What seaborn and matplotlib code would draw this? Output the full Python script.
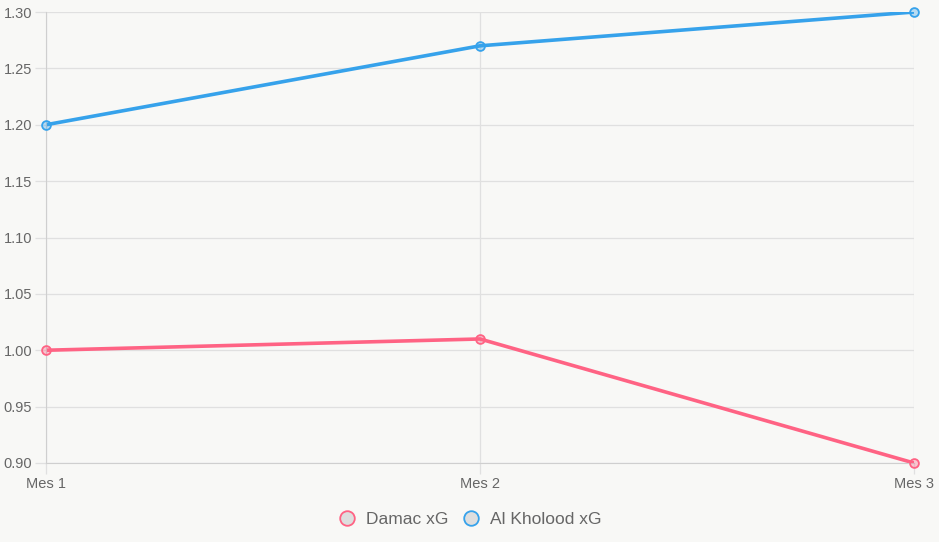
import matplotlib
matplotlib.use("Agg")
import matplotlib.pyplot as plt
import seaborn as sns
import pandas as pd
from matplotlib.lines import Line2D

meses = ["Mes 1", "Mes 2", "Mes 3"]
damac_xg = [1.00, 1.01, 0.90]
kholood_xg = [1.20, 1.27, 1.30]
series = ["Damac xG", "Al Kholood xG"]
colores = ["#ff6384", "#36a2eb"]

df = pd.DataFrame({
    "mes": meses * 2,
    "xg": damac_xg + kholood_xg,
    "equipo": [series[0]] * 3 + [series[1]] * 3,
})

sns.set_style("white")
plt.rcParams["font.family"] = ["Liberation Sans", "DejaVu Sans"]

fig = plt.figure(figsize=(9.39, 5.42), dpi=100, facecolor="#f8f8f6")
ax = fig.add_axes([46 / 939, 1 - 463 / 542, (914 - 46) / 939, (463 - 12) / 542])
ax.set_facecolor("#f8f8f6")

sns.lineplot(data=df, x="mes", y="xg", hue="equipo", palette=colores,
             linewidth=2.6, legend=False, ax=ax, sort=False)
for col, vals in zip(colores, [damac_xg, kholood_xg]):
    ax.scatter(meses, vals, s=40, facecolor=col + "55", edgecolor=col,
               linewidth=1.3, zorder=5, clip_on=False)

ax.set_xlim(0.0, 2.0)
ax.set_ylim(0.90, 1.30)
ax.set_yticks([0.90, 0.95, 1.00, 1.05, 1.10, 1.15, 1.20, 1.25, 1.30])
ax.set_yticklabels([f"{v:.2f}" for v in ax.get_yticks()])
ax.grid(True, color="#e0e0e0", linewidth=0.9)
ax.set_axisbelow(True)
for s in ["top", "right"]:
    ax.spines[s].set_visible(False)
for s in ["left", "bottom"]:
    ax.spines[s].set_color("#cfcfcf")
ax.tick_params(axis="both", bottom=True, left=True, colors="#666666",
               labelsize=10.5, length=8, width=0.9, pad=2)
ax.tick_params(axis="both", color="#e0e0e0")
ax.set_xlabel("")
ax.set_ylabel("")

handles = [Line2D([], [], marker="o", linestyle="", markersize=10.5,
                  markerfacecolor="#dedede", markeredgecolor=c,
                  markeredgewidth=1.3) for c in colores]
fig.legend(handles, series, loc="center", bbox_to_anchor=(0.5, 1 - 519 / 542),
           ncol=2, frameon=False, fontsize=12.5, labelcolor="#666666",
           handletextpad=0.6, columnspacing=0.8, handlelength=1.0)

fig.savefig("out.png", dpi=100, facecolor=fig.get_facecolor())
